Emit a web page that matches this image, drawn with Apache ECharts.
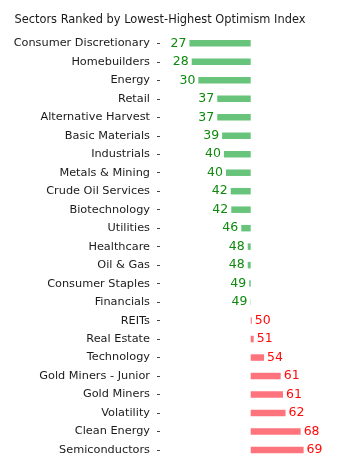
<!DOCTYPE html>
<html><head><meta charset="utf-8">
<script src="https://cdn.jsdelivr.net/npm/echarts@6/dist/echarts.min.js"></script>
<style>html,body{margin:0;padding:0;background:#fff}#c{width:349px;height:467px}</style>
</head><body><div id="c"></div>
<script>
var titleText = 'Sectors Ranked by Lowest-Highest Optimism Index';
var categories = ['Consumer Discretionary','Homebuilders','Energy','Retail','Alternative Harvest','Basic Materials','Industrials','Metals & Mining','Crude Oil Services','Biotechnology','Utilities','Healthcare','Oil & Gas','Consumer Staples','Financials','REITs','Real Estate','Technology','Gold Miners - Junior','Gold Miners','Volatility','Clean Energy','Semiconductors'];
var values = [27.3,28.15,30.6,37.6,37.6,39.4,40.1,40.85,42.6,42.8,46.5,48.9,48.9,49.45,49.9,50.4,51.1,54.95,61.1,61.95,62.9,68.5,69.6];
var neutral = 50;

var FONT = 'DejaVu Sans';
var chart = echarts.init(document.getElementById('c'), null, {renderer:'canvas'});
var data = values.map(function(v){
  var low = v < neutral;
  return {
    value: v - neutral,
    itemStyle: {color: low ? '#68c47b' : '#ff747c'},
    label: {position: low ? 'left' : 'right', color: low ? '#0f8a0f' : '#ff0a0a'}
  };
});
chart.setOption({
  animation:false,
  title:{text:titleText,left:9.5,top:10,textStyle:{fontFamily:FONT,fontSize:11.4,fontWeight:'normal',color:'#1a1a1a'}},
  grid:{left:160,top:34.1,width:171.7,height:425.1,containLabel:false},
  xAxis:{type:'value',min:-33.6,max:30,show:false},
  yAxis:{type:'category',data:categories,inverse:true,
    axisLine:{show:false,onZero:false},
    axisTick:{show:true,alignWithLabel:true,length:3,lineStyle:{color:'#444',width:1}},
    axisLabel:{interval:0,margin:10,fontFamily:FONT,fontSize:11.3,color:'#1a1a1a'},
    splitLine:{show:false}},
  series:[{type:'bar',data:data,barWidth:6.5,
    label:{show:true,distance:3,fontFamily:FONT,fontSize:12.5,
      formatter:function(p){return String(Math.floor(values[p.dataIndex]));}}}]
});
</script></body></html>
